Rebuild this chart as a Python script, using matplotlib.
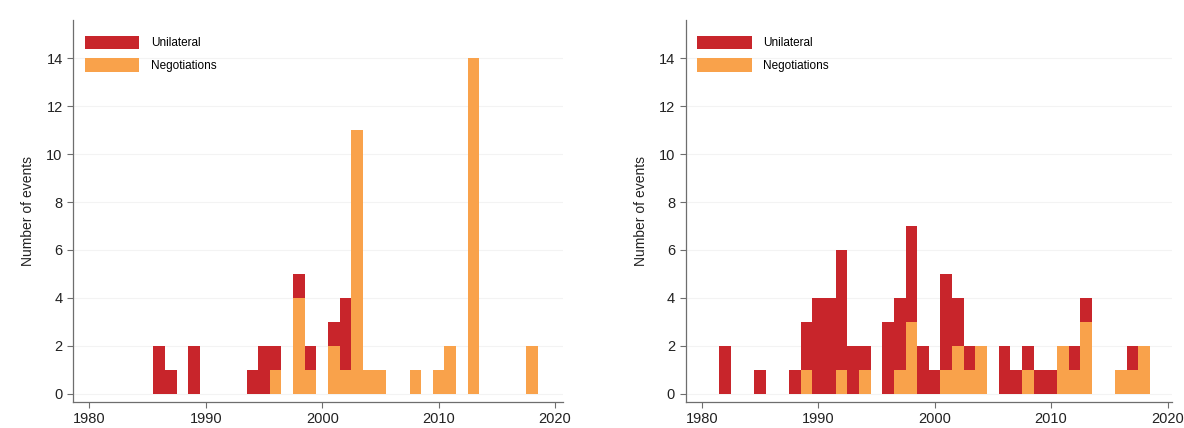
import matplotlib.pyplot as plt
import numpy as np

# ── Event counts by year ────────────────────────────────────────────────────
left_years = [1986, 1987, 1989, 1994, 1995, 1996, 1998, 1999, 2001, 2002,
              2003, 2004, 2005, 2008, 2010, 2011, 2013, 2018]
left_negotiations = [0, 0, 0, 0, 0, 1, 4, 1, 2, 1, 11, 1, 1, 1, 1, 2, 14, 2]
left_unilateral = [2, 1, 2, 1, 2, 1, 1, 1, 1, 3, 0, 0, 0, 0, 0, 0, 0, 0]

right_years = [1982, 1985, 1988, 1989, 1990, 1991, 1992, 1993, 1994, 1996,
               1997, 1998, 1999, 2000, 2001, 2002, 2003, 2004, 2006, 2007,
               2008, 2009, 2010, 2011, 2012, 2013, 2016, 2017, 2018]
right_negotiations = [0, 0, 0, 1, 0, 0, 1, 0, 1, 0,
                      1, 3, 0, 0, 1, 2, 1, 2, 0, 0,
                      1, 0, 0, 2, 1, 3, 1, 1, 2]
right_unilateral = [2, 1, 1, 2, 4, 4, 5, 2, 1, 3,
                    3, 4, 2, 1, 4, 2, 1, 0, 2, 1,
                    1, 1, 1, 0, 1, 1, 0, 1, 0]

RED = '#c8252b'
ORANGE = '#f9a24b'
AXIS = '#6e6e6e'

plt.rcParams['font.family'] = ['Liberation Sans', 'DejaVu Sans']

fig = plt.figure(figsize=(11.84, 4.28), dpi=100)
panels = [
    (fig.add_axes([0.0617, 0.061, 0.414, 0.892]),
     left_years, left_negotiations, left_unilateral, 2020.7),
    (fig.add_axes([0.579, 0.061, 0.411, 0.892]),
     right_years, right_negotiations, right_unilateral, 2020.4),
]

for ax, years, neg, uni, xmax in panels:
    years = np.array(years)
    neg = np.array(neg)
    uni = np.array(uni)

    # negotiations at the bottom, unilateral stacked on top
    ax.bar(years, neg, width=1.0, color=ORANGE, linewidth=0,
           label='Negotiations', zorder=2)
    ax.bar(years, uni, width=1.0, bottom=neg, color=RED, linewidth=0,
           label='Unilateral', zorder=2)

    ax.set_xlim(1978.6, xmax)
    ax.set_ylim(-0.35, 15.6)
    ax.set_xticks(range(1980, 2021, 10))
    ax.set_yticks(range(0, 15, 2))
    ax.yaxis.grid(True, color='#f3f3f3', linewidth=0.8, zorder=0)
    ax.set_ylabel('Number of events', fontsize=10, color='#222222',
                  labelpad=8)

    for side in ['top', 'right']:
        ax.spines[side].set_visible(False)
    for side in ['left', 'bottom']:
        ax.spines[side].set_color(AXIS)
        ax.spines[side].set_linewidth(0.9)
    ax.tick_params(colors=AXIS, labelcolor='#222222', labelsize=10.5,
                   length=4, width=0.8)

    handles, labels = ax.get_legend_handles_labels()
    ax.legend(handles[::-1], labels[::-1], loc='upper left',
              bbox_to_anchor=(0.0, 0.99), frameon=False, fontsize=8.5,
              handlelength=4.6, handleheight=1.4, handletextpad=1.0,
              labelspacing=0.72, borderaxespad=0.6)

plt.savefig('out.png', dpi=100)
